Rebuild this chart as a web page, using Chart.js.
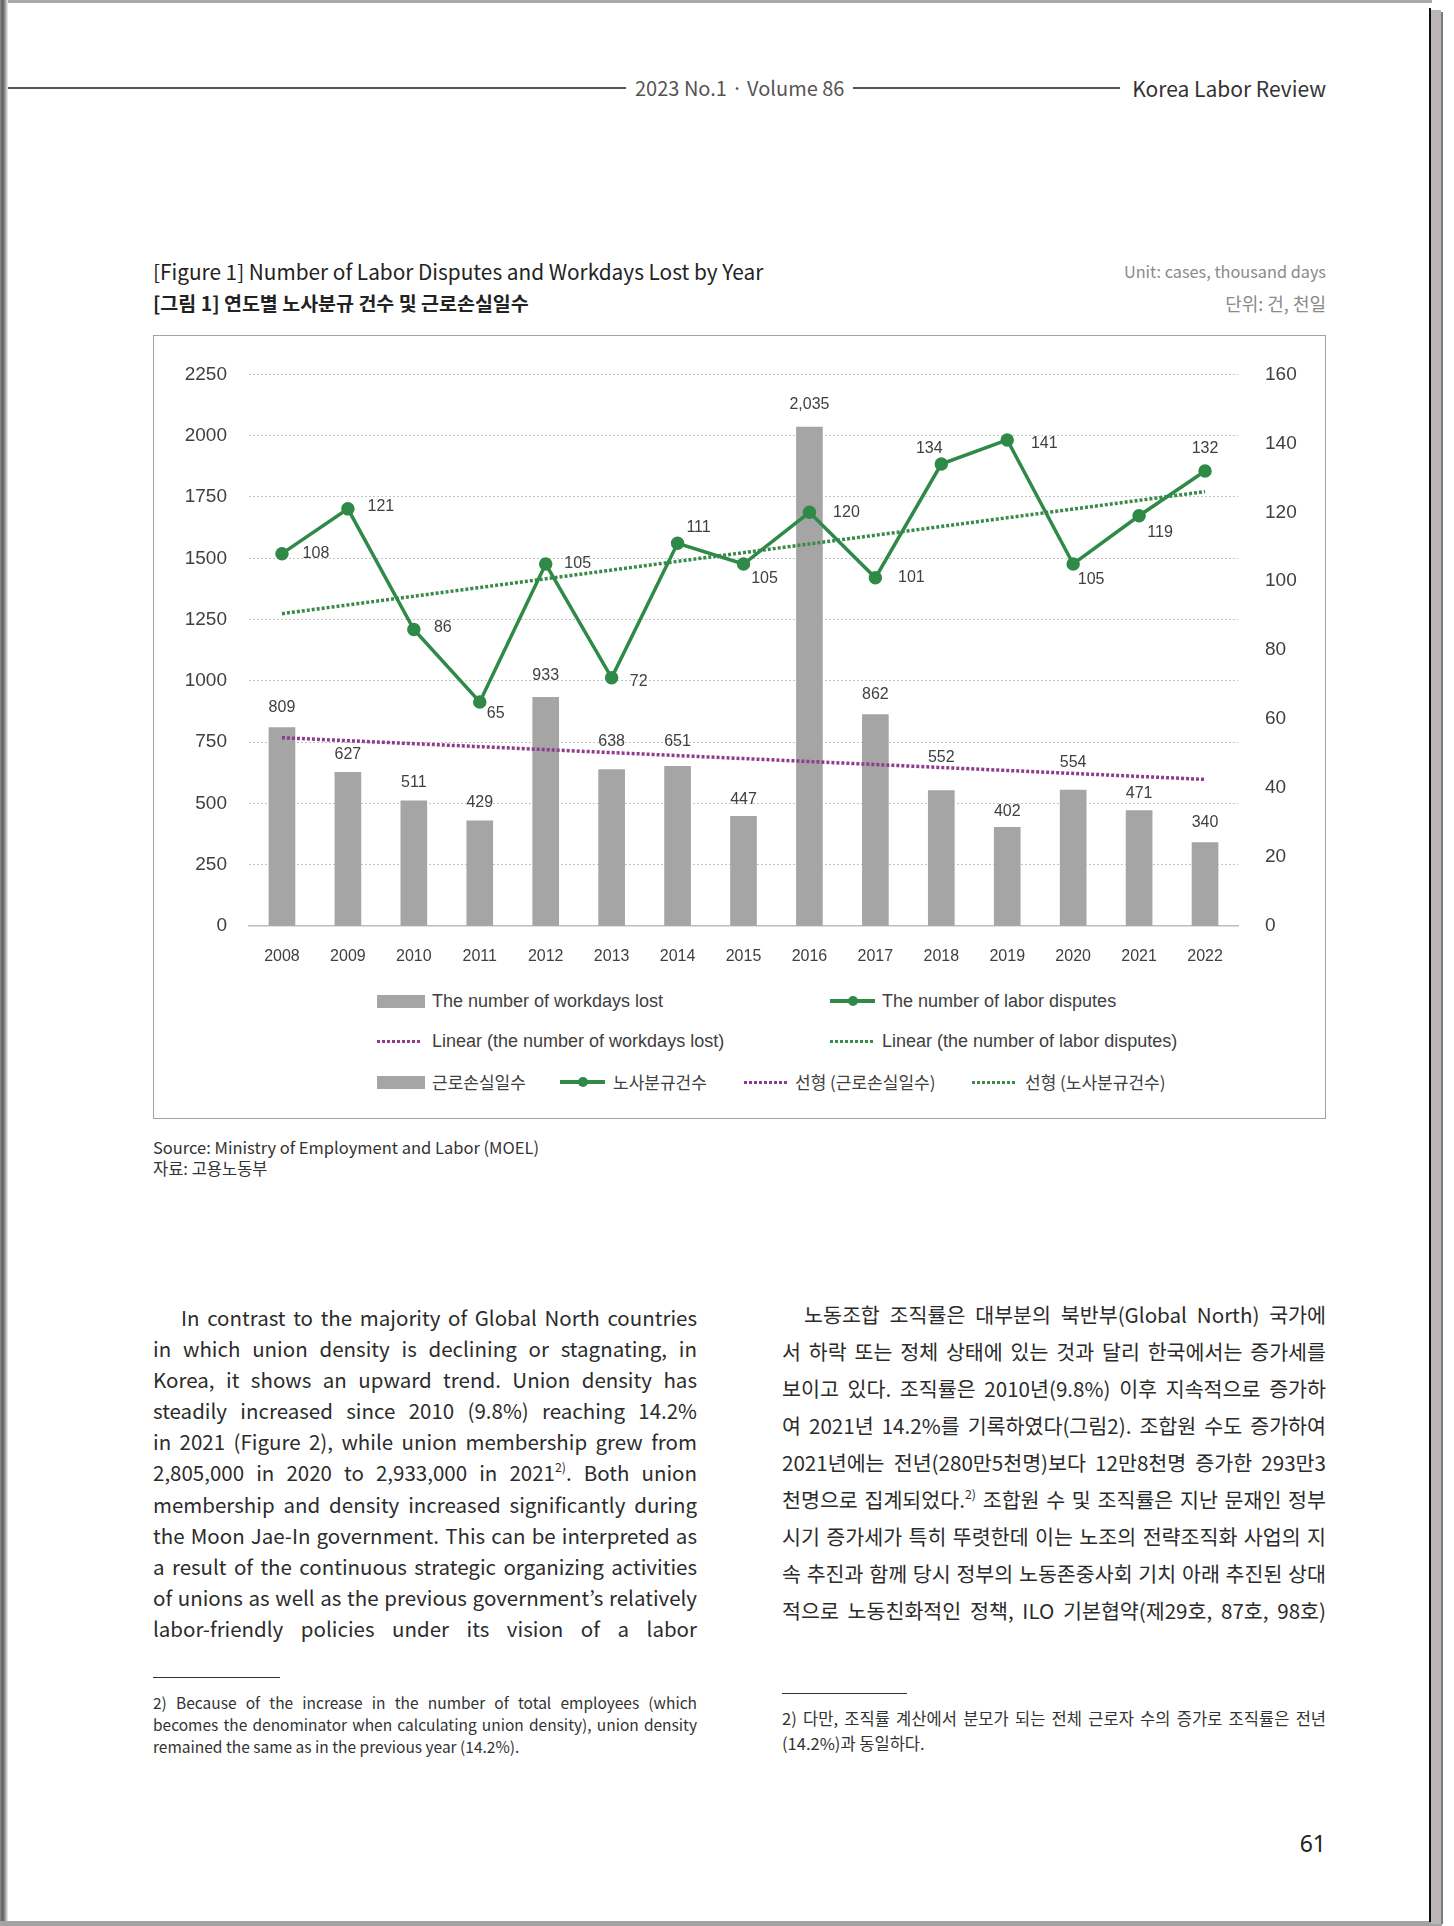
<!DOCTYPE html>
<html>
<head>
<meta charset="utf-8">
<script src="https://cdn.jsdelivr.net/npm/chart.js@4.4.0/dist/chart.umd.min.js"></script>
<style>
  html, body { margin: 0; padding: 0; background: #fff; }
  body { width: 1454px; height: 1926px; position: relative; overflow: hidden;
         font-family: 'Noto Sans CJK KR', 'Noto Sans', sans-serif; color: #2b2b2b; }
  .abs { position: absolute; }
  .frame-top { left: 0; top: 0; width: 1432px; height: 3px; background: #a9a9a9; }
  .frame-left { left: 0; top: 0; width: 8px; height: 1926px;
                background: linear-gradient(90deg, #8a8a8a, #5e5e5e 35%, #9a9a9a 65%, #f2f2f2); }
  .frame-bottom { left: 0; top: 1921px; width: 1442px; height: 5px; background: #a3a3a3; }
  .frame-r1 { left: 1429px; top: 8px; width: 2px; height: 1914px; background: #111; }
  .frame-r2 { left: 1431px; top: 10px; width: 10px; height: 1914px; background: #bcb7b7; }
  .frame-r3 { left: 1441px; top: 12px; width: 2px; height: 1912px; background: #7a7a7a; }

  .hline { height: 2px; background: #555; }
  .head-vol { left: 635px; top: 74px; font-size: 20px; color: #555; line-height: 28px; }
  .head-name { right: 128px; top: 74px; font-size: 21px; color: #333; line-height: 28px; }

  .fig-title { left: 153px; top: 256px; font-size: 20.8px; color: #222; line-height: 30px; }
  .fig-title-ko { left: 153px; top: 288px; font-size: 19.5px; font-weight: bold; color: #222; line-height: 30px; }
  .unit { right: 128px; top: 259px; font-size: 16.3px; color: #8a8a8a; line-height: 24px; text-align: right; }
  .unit-ko { right: 128px; top: 290px; font-size: 18px; color: #8a8a8a; line-height: 26px; text-align: right; }

  .chart-box { left: 153px; top: 335px; width: 1173px; height: 784px; border: 1px solid #a3a3a3; box-sizing: border-box; }
  #chart { position: absolute; left: 0; top: 0; }

  .lg-text { position: absolute; font-family: 'Liberation Sans Narrow', 'Liberation Sans', sans-serif;
             font-size: 18px; color: #404040; line-height: 22px; white-space: nowrap; }
  .lg-text.ko { font-family: 'Noto Sans CJK KR', sans-serif; font-size: 17px; }
  .sw-bar { position: absolute; width: 48px; height: 13px; background: #a5a5a5; }
  .sw-line { position: absolute; width: 45px; height: 4px; background: #2f8a47; }
  .sw-line::after { content: ''; position: absolute; left: 18px; top: -3px; width: 10px; height: 10px;
                    border-radius: 50%; background: #2f8a47; }
  .sw-dot { position: absolute; width: 45px; height: 3px; }
  .sw-dot.purple { background: repeating-linear-gradient(90deg, #8f3c8f 0 3px, transparent 3px 5px); }
  .sw-dot.green { background: repeating-linear-gradient(90deg, #3a8a4a 0 3px, transparent 3px 5px); }

  .source { left: 153px; top: 1137px; font-size: 16.5px; color: #333; line-height: 21px; }

  .col { width: 544px; }
  .col div { text-align: justify; text-align-last: justify; white-space: nowrap; }
  .col-en { left: 153px; top: 1302px; font-size: 20.5px; line-height: 31.1px; color: #2b2b2b; }
  .col-ko { left: 782px; top: 1296px; font-size: 20.6px; line-height: 37px; color: #2b2b2b; }
  .indent { padding-left: 28px; }
  sup { font-size: 0.6em; line-height: 0; vertical-align: 0.7em; }

  .fn-line { height: 1px; background: #333; }
  .fn { width: 544px; color: #333; }
  .fn div { text-align: justify; text-align-last: justify; white-space: nowrap; }
  .fn div.last { text-align-last: left; }
  .fn-en { left: 153px; top: 1691px; line-height: 22px; font-size: 15.5px; }
  .fn-ko { left: 782px; top: 1706px; line-height: 25px; font-size: 16.5px; }

  .pageno { right: 128px; top: 1828px; font-size: 23px; color: #222; line-height: 30px; font-family: 'Noto Sans', sans-serif; }
</style>
</head>
<body>
<div class="abs frame-top"></div>
<div class="abs frame-left"></div>
<div class="abs frame-bottom"></div>
<div class="abs frame-r1"></div>
<div class="abs frame-r2"></div>
<div class="abs frame-r3"></div>

<div class="abs hline" style="left:8px; top:87px; width:618px;"></div>
<div class="abs head-vol">2023 No.1 · Volume 86</div>
<div class="abs hline" style="left:853px; top:87px; width:267px;"></div>
<div class="abs head-name">Korea Labor Review</div>

<div class="abs fig-title">[Figure 1] Number of Labor Disputes and Workdays Lost by Year</div>
<div class="abs fig-title-ko">[그림 1] 연도별 노사분규 건수 및 근로손실일수</div>
<div class="abs unit">Unit: cases, thousand days</div>
<div class="abs unit-ko">단위: 건, 천일</div>

<div class="abs chart-box">
  <canvas id="chart" width="1171" height="640"></canvas>

  <div class="sw-bar" style="left:223px; top:659px;"></div>
  <div class="lg-text" style="left:278px; top:654px;">The number of workdays lost</div>
  <div class="sw-line" style="left:676px; top:663px;"></div>
  <div class="lg-text" style="left:728px; top:654px;">The number of labor disputes</div>

  <div class="sw-dot purple" style="left:223px; top:704px;"></div>
  <div class="lg-text" style="left:278px; top:694px;">Linear (the number of workdays lost)</div>
  <div class="sw-dot green" style="left:676px; top:704px;"></div>
  <div class="lg-text" style="left:728px; top:694px;">Linear (the number of labor disputes)</div>

  <div class="sw-bar" style="left:223px; top:740px;"></div>
  <div class="lg-text ko" style="left:278px; top:735px;">근로손실일수</div>
  <div class="sw-line" style="left:406px; top:744px;"></div>
  <div class="lg-text ko" style="left:459px; top:735px;">노사분규건수</div>
  <div class="sw-dot purple" style="left:590px; top:745px;"></div>
  <div class="lg-text ko" style="left:641px; top:735px;">선형 (근로손실일수)</div>
  <div class="sw-dot green" style="left:818px; top:745px;"></div>
  <div class="lg-text ko" style="left:871px; top:735px;">선형 (노사분규건수)</div>
</div>

<div class="abs source">Source: Ministry of Employment and Labor (MOEL)<br>자료: 고용노동부</div>

<div class="abs col col-en">
  <div class="indent">In contrast to the majority of Global North countries</div>
  <div>in which union density is declining or stagnating, in</div>
  <div>Korea, it shows an upward trend. Union density has</div>
  <div>steadily increased since 2010 (9.8%) reaching 14.2%</div>
  <div>in 2021 (Figure 2), while union membership grew from</div>
  <div>2,805,000 in 2020 to 2,933,000 in 2021<sup>2)</sup>. Both union</div>
  <div>membership and density increased significantly during</div>
  <div>the Moon Jae-In government. This can be interpreted as</div>
  <div>a result of the continuous strategic organizing activities</div>
  <div>of unions as well as the previous government’s relatively</div>
  <div>labor-friendly policies under its vision of a labor</div>
</div>

<div class="abs col col-ko">
  <div style="padding-left:22px;">노동조합 조직률은 대부분의 북반부(Global North) 국가에</div>
  <div>서 하락 또는 정체 상태에 있는 것과 달리 한국에서는 증가세를</div>
  <div>보이고 있다. 조직률은 2010년(9.8%) 이후 지속적으로 증가하</div>
  <div>여 2021년 14.2%를 기록하였다(그림2). 조합원 수도 증가하여</div>
  <div>2021년에는 전년(280만5천명)보다 12만8천명 증가한 293만3</div>
  <div>천명으로 집계되었다.<sup>2)</sup> 조합원 수 및 조직률은 지난 문재인 정부</div>
  <div>시기 증가세가 특히 뚜렷한데 이는 노조의 전략조직화 사업의 지</div>
  <div>속 추진과 함께 당시 정부의 노동존중사회 기치 아래 추진된 상대</div>
  <div>적으로 노동친화적인 정책, ILO 기본협약(제29호, 87호, 98호)</div>
</div>

<div class="abs fn-line" style="left:153px; top:1677px; width:127px;"></div>
<div class="abs fn fn-en">
  <div>2) Because of the increase in the number of total employees (which</div>
  <div>becomes the denominator when calculating union density), union density</div>
  <div class="last">remained the same as in the previous year (14.2%).</div>
</div>

<div class="abs fn-line" style="left:782px; top:1693px; width:125px;"></div>
<div class="abs fn fn-ko">
  <div>2) 다만, 조직률 계산에서 분모가 되는 전체 근로자 수의 증가로 조직률은 전년</div>
  <div class="last">(14.2%)과 동일하다.</div>
</div>

<div class="abs pageno">61</div>

<script>
const years = ['2008', '2009', '2010', '2011', '2012', '2013', '2014', '2015',
               '2016', '2017', '2018', '2019', '2020', '2021', '2022'];
const workdaysLost = [809, 627, 511, 429, 933, 638, 651, 447, 2035, 862, 552, 402, 554, 471, 340];
const laborDisputes = [108, 121, 86, 65, 105, 72, 111, 105, 120, 101, 134, 141, 105, 119, 132];
// trend line end values (first year, last year)
const workdaysTrendEnds = [768, 598];
const disputesTrendEnds = [90.6, 126];
const leftTicks = [0, 250, 500, 750, 1000, 1250, 1500, 1750, 2000, 2250];
const rightTicks = [0, 20, 40, 60, 80, 100, 120, 140, 160];

// label placement (px) - how far above a bar / where beside a point
const barLabelRaise = [20, 18, 18, 18, 22, 28, 25, 17, 23, 20, 33, 16, 28, 17, 20];
const disputeLabelOffset = [[34, 0], [33, -2], [29, -2], [16, 12], [32, 0], [27, 4], [21, -16], [21, 15],
                            [37, 0], [36, 0], [-12, -15], [37, 4], [18, 16], [21, 17], [0, -22]];

const chartFont = "'Liberation Sans Narrow', 'Liberation Sans', sans-serif";
const GREEN = '#2f8a47';

const endsToSeries = (ends) => years.map((_, i) => i === 0 ? ends[0] : (i === years.length - 1 ? ends[1] : null));
const fmt = (v) => v >= 1000 ? v.toLocaleString('en-US') : String(v);

const valueLabels = {
  id: 'valueLabels',
  afterDatasetsDraw(chart) {
    const ctx = chart.ctx;
    ctx.save();
    ctx.font = '16px ' + chartFont;
    ctx.fillStyle = '#404040';
    ctx.textAlign = 'center';
    ctx.textBaseline = 'middle';
    chart.getDatasetMeta(0).data.forEach((bar, i) => {
      ctx.fillText(fmt(workdaysLost[i]), bar.x, bar.y - barLabelRaise[i]);
    });
    chart.getDatasetMeta(1).data.forEach((pt, i) => {
      const [dx, dy] = disputeLabelOffset[i];
      ctx.fillText(String(laborDisputes[i]), pt.x + dx, pt.y + dy);
    });
    ctx.restore();
  }
};

new Chart(document.getElementById('chart').getContext('2d'), {
  data: {
    labels: years,
    datasets: [
      { type: 'bar', label: 'The number of workdays lost', data: workdaysLost, yAxisID: 'y',
        backgroundColor: '#a5a5a5', barThickness: 26, order: 4 },
      { type: 'line', label: 'The number of labor disputes', data: laborDisputes, yAxisID: 'y1',
        borderColor: GREEN, backgroundColor: GREEN, borderWidth: 3.5, pointRadius: 5,
        pointHoverRadius: 5, tension: 0, order: 1 },
      { type: 'line', label: 'Linear (the number of workdays lost)', data: endsToSeries(workdaysTrendEnds),
        yAxisID: 'y', borderColor: '#8f3c8f', borderWidth: 3.5, borderDash: [3, 2], pointRadius: 0,
        spanGaps: true, order: 3 },
      { type: 'line', label: 'Linear (the number of labor disputes)', data: endsToSeries(disputesTrendEnds),
        yAxisID: 'y1', borderColor: '#3a8a4a', borderWidth: 3.5, borderDash: [3, 2], pointRadius: 0,
        spanGaps: true, order: 2 }
    ]
  },
  options: {
    responsive: false,
    animation: false,
    devicePixelRatio: 1,
    layout: { padding: { top: 36, left: 0, right: 0, bottom: 0 } },
    plugins: { legend: { display: false }, tooltip: { enabled: false } },
    scales: {
      x: {
        grid: { display: false },
        border: { display: true, color: '#bdbdbd', width: 1.5 },
        ticks: { font: { family: chartFont, size: 16 }, color: '#404040', padding: 13, maxRotation: 0 },
        afterFit: (s) => { s.height = 50; }
      },
      y: {
        position: 'left', min: 0, max: 2250,
        afterBuildTicks: (s) => { s.ticks = leftTicks.map(v => ({ value: v })); },
        grid: { color: (c) => c.tick && c.tick.value === 0 ? 'rgba(0,0,0,0)' : '#c4c4c4', lineWidth: 1, drawTicks: false },
        border: { display: false, dash: [2, 2] },
        ticks: { font: { family: chartFont, size: 19 }, color: '#404040', padding: 22, callback: (v) => String(v) },
        afterFit: (s) => { s.width = 95; }
      },
      y1: {
        position: 'right', min: 0, max: 160,
        afterBuildTicks: (s) => { s.ticks = rightTicks.map(v => ({ value: v })); },
        grid: { display: false, drawTicks: false },
        border: { display: false },
        ticks: { font: { family: chartFont, size: 19 }, color: '#404040', padding: 27, callback: (v) => String(v) },
        afterFit: (s) => { s.width = 87; }
      }
    }
  },
  plugins: [valueLabels]
});
</script>
</body>
</html>
